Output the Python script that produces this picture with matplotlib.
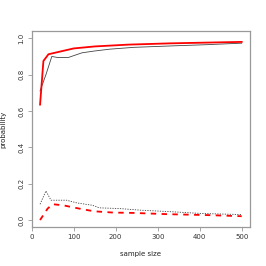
import matplotlib
matplotlib.use('Agg')
import matplotlib.pyplot as plt

# upper curves (power-like)
xRedUp = [20, 28, 40, 100, 150, 230, 330, 500]
yRedUp = [0.635, 0.875, 0.912, 0.944, 0.955, 0.965, 0.972, 0.98]
xBlkUp = [20, 34, 48, 62, 87, 120, 150, 186, 243, 334, 420, 500]
yBlkUp = [0.71, 0.80, 0.90, 0.894, 0.894, 0.92, 0.93, 0.94, 0.95, 0.958, 0.965, 0.973]

# lower curves
xBlkLo = [20, 34, 46, 65, 83, 108, 145, 161, 210, 260, 330, 404, 500]
yBlkLo = [0.087, 0.16, 0.109, 0.109, 0.109, 0.094, 0.081, 0.067, 0.063, 0.054, 0.046, 0.036, 0.03]
xRedLo = [20, 38, 50, 75, 100, 124, 149, 194, 243, 326, 420, 500]
yRedLo = [0.0, 0.063, 0.087, 0.081, 0.069, 0.058, 0.048, 0.041, 0.039, 0.032, 0.027, 0.021]

GRAY = '#999999'

fig = plt.figure(figsize=(2.66, 2.66), dpi=100)
ax = fig.add_axes([0.119, 0.1455, 0.82, 0.738])

ax.plot(xBlkUp, yBlkUp, color='#444444', lw=0.6)
ax.plot(xRedUp, yRedUp, color='red', lw=1.3)
ax.plot(xBlkLo, yBlkLo, color='#444444', lw=0.6, linestyle=(0, (1.5, 1.5)))
ax.plot(xRedLo, yRedLo, color='red', lw=1.3, linestyle=(0, (3, 3)))

ax.set_xlim(0.8, 519.2)
ax.set_ylim(-0.04, 1.04)
ax.set_xticks([0, 100, 200, 300, 400, 500])
ax.set_yticks([0.0, 0.2, 0.4, 0.6, 0.8, 1.0])
ax.set_yticklabels(['0.0', '0.2', '0.4', '0.6', '0.8', '1.0'], rotation=90, va='center')
ax.tick_params(axis='both', labelsize=5, length=3, width=0.6, color=GRAY, labelcolor='#333333', pad=2)
for s in ax.spines.values():
    s.set_color(GRAY)
    s.set_linewidth(0.9)

ax.set_xlabel('sample size', fontsize=5, color='#222222', labelpad=8)
ax.set_ylabel('probability', fontsize=5, color='#222222', labelpad=9)

fig.savefig('out.png', dpi=100)
